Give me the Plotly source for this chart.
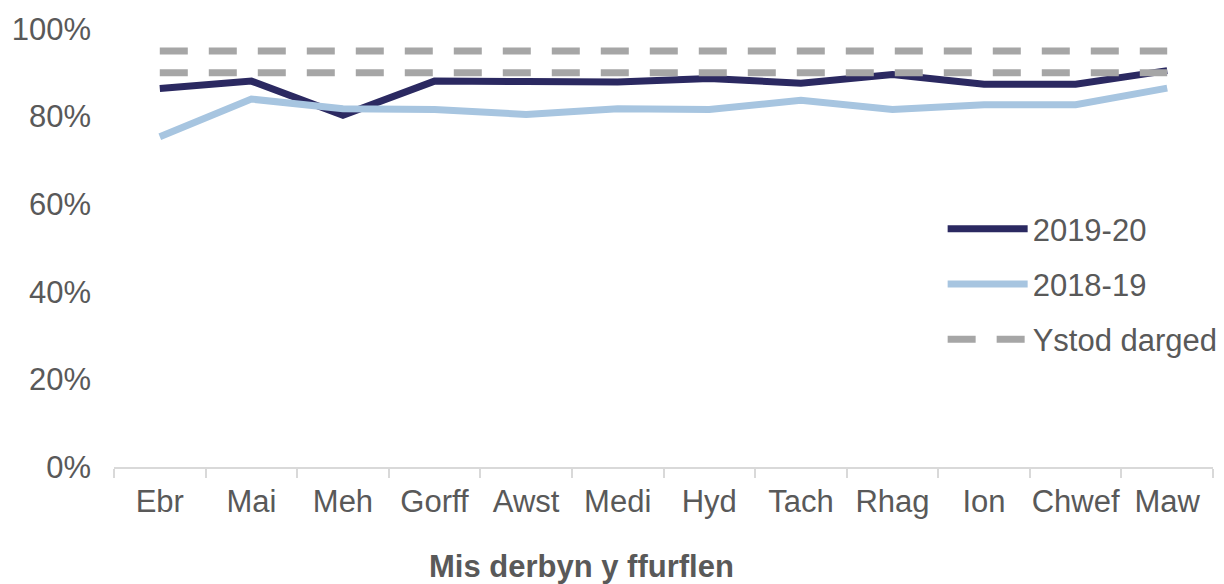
"""Cyfran y ffurflenni a dderbyniwyd yn erbyn yr ystod darged."""

import plotly.graph_objects as go

misoedd = ["Ebr", "Mai", "Meh", "Gorff", "Awst", "Medi", "Hyd", "Tach", "Rhag", "Ion", "Chwef", "Maw"]
gwerth_2019_20 = [0.864, 0.881, 0.803, 0.881, 0.880, 0.879, 0.887, 0.876, 0.896, 0.874, 0.874, 0.905]
gwerth_2018_19 = [0.754, 0.840, 0.818, 0.816, 0.805, 0.818, 0.816, 0.837, 0.816, 0.827, 0.827, 0.865]
targed_uchaf = [0.95] * 12
targed_isaf = [0.90] * 12

TEXT = "#595959"
FONT = "Liberation Sans, Arial, sans-serif"
FS = 31

fig = go.Figure()

fig.add_trace(go.Scatter(
    x=misoedd, y=gwerth_2019_20, mode="lines", name="2019-20",
    line=dict(color="#2b2961", width=7), legendgroup="a",
))
fig.add_trace(go.Scatter(
    x=misoedd, y=gwerth_2018_19, mode="lines", name="2018-19",
    line=dict(color="#a7c5e0", width=7), legendgroup="b",
))
fig.add_trace(go.Scatter(
    x=misoedd, y=targed_uchaf, mode="lines", name="Ystod darged",
    line=dict(color="#a6a6a6", width=7, dash="28px,21px"), legendgroup="c",
))
fig.add_trace(go.Scatter(
    x=misoedd, y=targed_isaf, mode="lines", name="Ystod darged",
    line=dict(color="#a6a6a6", width=7, dash="28px,21px"), legendgroup="c",
    showlegend=False,
))

# teitl yr echelin x (heb ei ganoli ar yr echelin, fel yn y gwreiddiol)
fig.add_annotation(
    text="<b>Mis derbyn y ffurflen</b>", xref="paper", yref="paper",
    x=(573 - 106) / 1099, y=-0.228, xanchor="center", yanchor="middle",
    showarrow=False, font=dict(size=FS, color=TEXT, family=FONT),
)

# mae corff y dudalen yn ychwanegu 8px o ymyl
fig.update_layout(
    width=1216, height=576,
    margin=dict(l=106, r=11, t=21, b=117, autoexpand=False),
    plot_bgcolor="white", paper_bgcolor="white",
    font=dict(family=FONT, size=FS, color=TEXT),
    showlegend=True,
    legend=dict(
        x=0.754, y=0.605, xanchor="left", yanchor="top",
        bgcolor="rgba(0,0,0,0)", itemwidth=80, tracegroupgap=12,
        font=dict(size=FS, color=TEXT),
    ),
    xaxis=dict(
        type="category", range=[-0.5, 11.5], automargin=False, tickangle=0,
        showline=True, linecolor="#d9d9d9", linewidth=2,
        ticks="outside", tickson="boundaries", ticklen=9, tickcolor="#d9d9d9", tickwidth=2,
        showgrid=False, ticklabelstandoff=6,
        tickfont=dict(size=FS, color=TEXT),
    ),
    yaxis=dict(
        range=[0, 1], tickvals=[0, 0.2, 0.4, 0.6, 0.8, 1.0], tickformat=".0%",
        showgrid=False, zeroline=False, showline=False, automargin=False,
        ticklabelstandoff=22, tickfont=dict(size=FS, color=TEXT),
    ),
)

fig.write_html("out.html")
